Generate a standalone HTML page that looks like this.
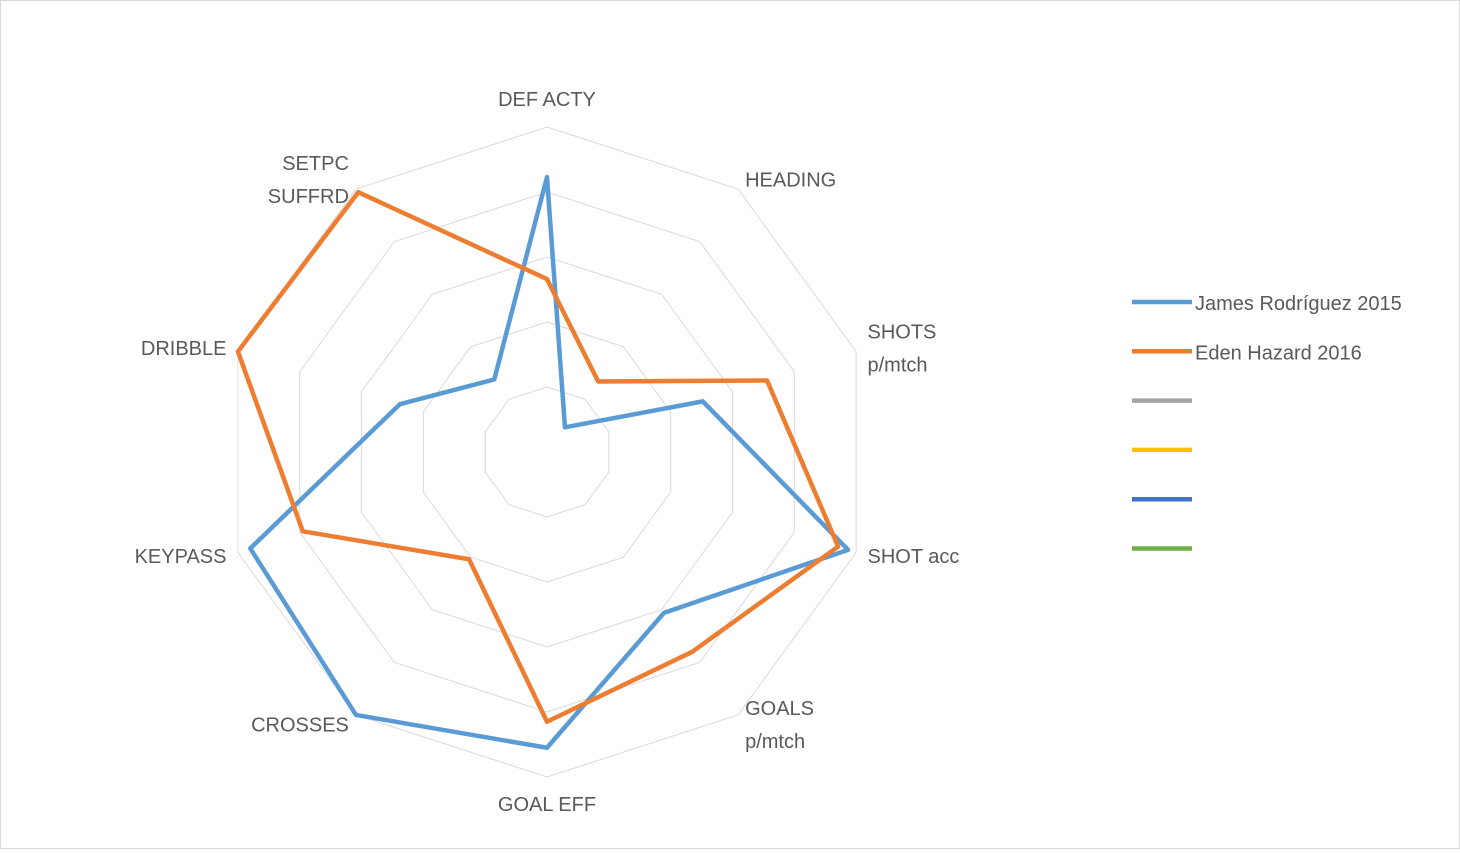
<!DOCTYPE html>
<html><head><meta charset="utf-8"><style>
html,body{margin:0;padding:0;background:#fff}
svg text{font-family:"Liberation Sans",sans-serif;font-size:20px;fill:#595959}
</style></head><body>
<svg width="1460" height="849" xmlns="http://www.w3.org/2000/svg">
<rect x="0.5" y="0.5" width="1459" height="848" fill="#fff" stroke="#d9d9d9"/>
<g id="grid"></g><g id="series"></g><g id="labels"></g><g id="legend"></g>
</svg>
<script>
const categories=[["DEF ACTY"],["HEADING"],["SHOTS","p/mtch"],["SHOT acc"],["GOALS","p/mtch"],["GOAL EFF"],["CROSSES"],["KEYPASS"],["DRIBBLE"],["SETPC","SUFFRD"]];
const jamesValues=[4.23,0.47,2.52,4.87,3.06,4.55,5.0,4.8,2.38,1.38];
const edenValues=[2.66,1.34,3.56,4.71,3.8,4.15,2.04,3.95,5.0,4.94];
const seriesNames=["James Rodríguez 2015","Eden Hazard 2016","","","",""];
const seriesColors=["#5b9bd5","#ed7d31","#a5a5a5","#ffc000","#4472c4","#70ad47"];
const maxVal=5, rings=5;
const cx=547, cy=452, R=325;
const NS="http://www.w3.org/2000/svg";
function pt(i,v){const a=i*2*Math.PI/categories.length;const r=v/maxVal*R;return [cx+r*Math.sin(a),cy-r*Math.cos(a)];}
function mk(tag,attrs,parent){const e=document.createElementNS(NS,tag);for(const k in attrs)e.setAttribute(k,attrs[k]);parent.appendChild(e);return e;}
const grid=document.getElementById('grid');
for(let k=1;k<=rings;k++){
 const p=categories.map((c,i)=>pt(i,k*maxVal/rings).join(',')).join(' ');
 const e=mk('polygon',{points:p,fill:'none',stroke:'#d9d9d9','stroke-width':1},grid);
 
 
}
const sg=document.getElementById('series');
[jamesValues,edenValues].forEach((vals,s)=>{
 const p=vals.map((v,i)=>pt(i,v).join(',')).join(' ');
 const e=mk('polygon',{points:p,fill:'none',stroke:seriesColors[s],'stroke-width':4.5,'stroke-linejoin':'round'},sg);
 
 
});
const lg=document.getElementById('labels');
categories.forEach((c,i)=>{
 const a=i*2*Math.PI/categories.length;let [x,y]=pt(i,maxVal*(R+12)/R);
 const s=Math.sin(a);let anchor=Math.abs(s)<0.1?'middle':(s>0?'start':'end');
 if(Math.cos(a)>0.9)y-=16;
 if(Math.cos(a)<-0.9)y+=15;
 const t=mk('text',{x:x,'text-anchor':anchor},lg);
 
 
 const lh=33;const y0=y+7-(c.length-1)*lh/2;
 c.forEach((line,j)=>{const ts=mk('tspan',{x:x,y:y0+j*lh},t);ts.textContent=line;});
});
const leg=document.getElementById('legend');
seriesNames.forEach((n,i)=>{
 const y=302+i*49.3;
 const l=mk('line',{x1:1132,y1:y,x2:1192,y2:y,stroke:seriesColors[i],'stroke-width':4.5},leg);
 
 
 if(n){const t=mk('text',{x:1195,y:y+8},leg);t.textContent=n;
 
 }
});
</script>
</body></html>
